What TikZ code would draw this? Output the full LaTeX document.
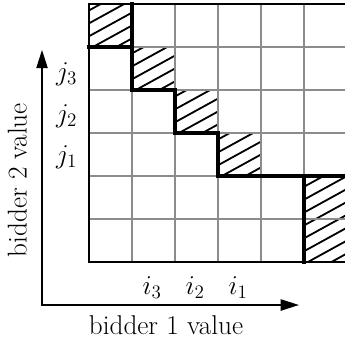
\RequirePackage{fix-cm}
\documentclass[tikz,border=0pt]{standalone}
\usepackage{fontspec}
\usepackage{amsmath}
\usepackage{tikz}
\usetikzlibrary{arrows.meta}
\definecolor{cellgray}{RGB}{140,140,140}

\begin{document}
\begin{tikzpicture}[x=1cm,y=1cm,font=\fontsize{18}{22}\selectfont,
    hatchline/.style={line width=1.2pt},
    stair/.style={line width=2.6pt,line cap=rect},
    axisline/.style={line width=0.8pt,{Triangle[length=12pt,width=7.5pt]}-{Triangle[length=12pt,width=7.5pt]}}]
  \useasboundingbox (-2.07,-1.767) rectangle (5.953,6.093);
  % hatched cells
  \foreach \a/\b/\c/\d in {0/5/1/6, 1/4/2/5, 2/3/3/4, 3/2/4/3, 5/0/6/2} {
    \begin{scope}
      \clip (\a,\b) rectangle (\c,\d);
      \foreach \k in {-8,...,8}
        \draw[hatchline] (\a-1,\b+0.3*\k) -- ++(4,2.2);
    \end{scope}
  }
  \draw[cellgray,line width=0.8pt] (0,0) grid (6,6);
  \draw[line width=1.5pt] (0,0) rectangle (6,6);
  % staircase
  \draw[stair] (0,5) -- (1,5);
  \draw[stair] (1,6) -- (1,4) -- (2,4) -- (2,3) -- (3,3) -- (3,2) -- (6,2);
  \draw[stair] (5,2) -- (5,0);
  % axes
  \coordinate (orig) at (-1.093,-1);
  \coordinate (xtip) at (4.88,-1);
  \coordinate (ytip) at (-1.093,4.93);
  \draw[axisline] (ytip) -- (orig) -- (xtip);
  \node (i3) at (1.47,-0.6) {$i_3$};
  \node (i2) at (2.47,-0.6) {$i_2$};
  \node (i1) at (3.47,-0.6) {$i_1$};
  \node (j3) at (-0.52,4.37) {$j_3$};
  \node (j2) at (-0.52,3.4) {$j_2$};
  \node (j1) at (-0.52,2.43) {$j_1$};
  \node (xlab) at (1.79,-1.465) {bidder 1 value};
  \node[rotate=90] (ylab) at (-1.67,1.9) {bidder 2 value};
\end{tikzpicture}
\end{document}
